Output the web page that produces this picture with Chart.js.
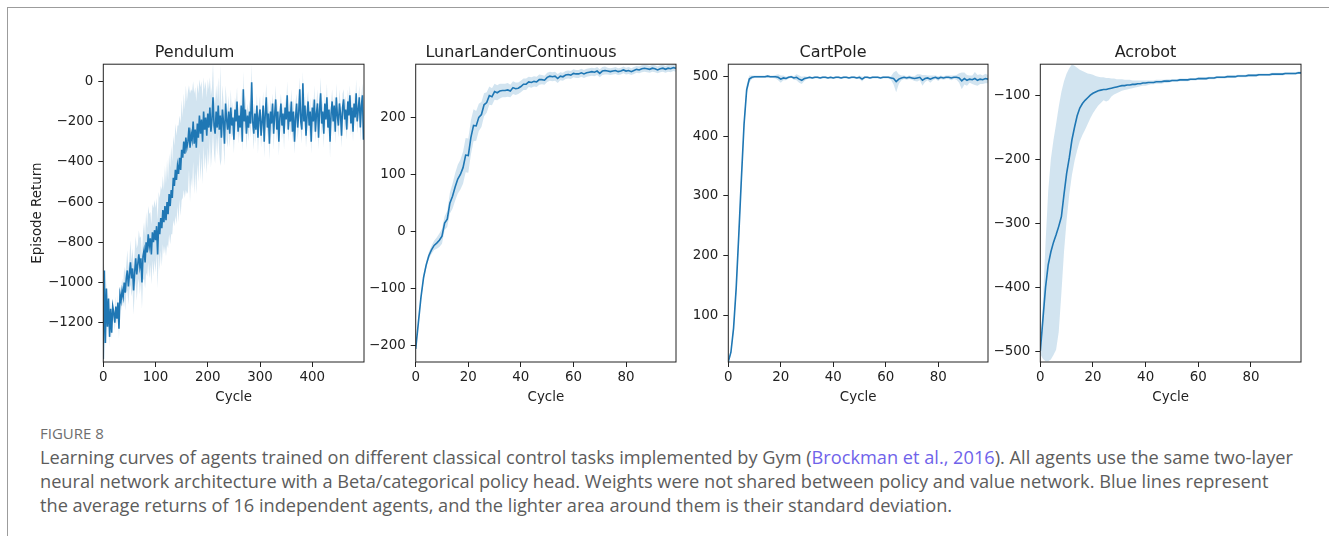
<!DOCTYPE html>
<html>
<head>
<meta charset="utf-8">
<script src="https://cdn.jsdelivr.net/npm/chart.js@4.4.1/dist/chart.umd.min.js"></script>
<style>
  body { margin: 0; background: #fff; width: 1329px; height: 536px; overflow: hidden; position: relative; }
  .frame { position: absolute; left: 7px; top: 7px; width: 1400px; height: 600px; border: 1.5px solid #9c9c9c; }
  canvas { position: absolute; top: 25px; }
  .fig { position: absolute; left: 40px; top: 423px; font: 15px "Open Sans", sans-serif; line-height: 20px; color: #6e6e6e; }
  .cap { position: absolute; left: 40px; top: 445px; font: 18.2px "Open Sans", sans-serif; line-height: 24px; color: #5c5c5c; white-space: nowrap; }
  .ref { color: #6f63ea; }
</style>
</head>
<body>
<div class="frame"></div>
<canvas id="c0" width="351" height="382" style="left:25px"></canvas>
<canvas id="c1" width="322" height="382" style="left:366px"></canvas>
<canvas id="c2" width="322" height="382" style="left:678px"></canvas>
<canvas id="c3" width="323" height="382" style="left:990px"></canvas>
<div class="fig">FIGURE 8</div>
<div class="cap">Learning curves of agents trained on different classical control tasks implemented by Gym (<span class="ref">Brockman et al., 2016</span>). All agents use the same two-layer<br>neural network architecture with a Beta/categorical policy head. Weights were not shared between policy and value network. Blue lines represent<br>the average returns of 16 independent agents, and the lighter area around them is their standard deviation.</div>
<script>
// Pendulum: one value every 2 cycles
const pendulumMean = [
  -1380, -940, -1300, -1030, -1220, -1080, -1270, -1130, -1250, -1120,
  -1150, -1200, -1120, -1180, -1100, -1230, -1060, -1090, -1040, -1070,
  -1000, -1050, -980, -940, -1020, -960, -900, -980, -930, -1040,
  -950, -880, -960, -910, -860, -920, -880, -1000, -870, -840,
  -900, -800, -850, -760, -820, -780, -860, -750, -800, -740,
  -790, -720, -860, -700, -760, -680, -730, -640, -700, -620,
  -690, -600, -660, -560, -620, -540, -580, -480, -520, -440,
  -490, -420, -460, -380, -440, -340, -380, -300, -360, -280,
  -330, -300, -230, -330, -260, -290, -200, -310, -240, -330,
  -210, -280, -170, -260, -190, -300, -150, -240, -180, -270,
  -160, -230, -130, -250, -190, -80, -220, -260, -150, -230,
  -120, -240, -170, -280, -140, -200, -310, -110, -190, -240,
  -150, -260, -130, -220, -180, -290, -140, -200, -100, -250,
  -170, -230, -120, -300, -40, -200, -140, -260, -170, -230,
  -150, -210, -5, -200, -260, -160, -240, -120, -280, -180,
  -140, -270, -200, -120, -300, -160, -80, -230, -160, -310,
  -150, -210, -110, -260, -170, -90, -240, -150, -300, -180,
  -110, -220, -160, -260, -130, -190, -70, -240, -150, -200,
  -100, -250, -150, -300, -180, -110, -230, -160, -40, -200,
  -240, -10, -200, -120, -270, -170, -100, -220, -150, -300,
  -130, -200, -90, -250, -160, -110, -280, -140, -60, -210,
  -150, -260, -110, -190, -80, -230, -140, -300, -160, -100,
  -200, -120, -250, -80, -170, -220, -110, -160, -270, -130,
  -90, -190, -140, -240, -100, -170, -70, -210, -130, -250,
  -110, -180, -60, -200, -140, -80, -230, -120, -70, -290
];
const pendulumStd = [
  10, 40, 30, 50, 40, 30, 50, 40, 30, 40,
  30, 40, 50, 30, 40, 50, 40, 50, 60, 50,
  80, 90, 70, 100, 90, 80, 110, 90, 100, 120,
  100, 110, 130, 100, 120, 140, 110, 130, 120, 140,
  130, 150, 120, 140, 160, 130, 150, 140, 170, 150,
  160, 140, 170, 150, 180, 160, 190, 170, 160, 200,
  180, 210, 170, 200, 190, 220, 180, 210, 200, 230,
  220, 200, 240, 210, 230, 250, 200, 240, 220, 260,
  230, 250, 210, 270, 220, 240, 200, 250, 210, 230,
  200, 220, 180, 230, 190, 210, 170, 200, 180, 190,
  170, 190, 150, 180, 160, 170, 140, 150, 130, 140,
  140, 120, 250, 110, 120, 100, 110, 90, 100, 90,
  80, 70, 90, 60, 80, 70, 60, 90, 70, 60,
  70, 60, 80, 50, 90, 60, 70, 80, 60, 70,
  60, 70, 90, 60, 80, 50, 70, 60, 80, 60,
  70, 60, 50, 70, 80, 60, 70, 50, 60, 80,
  60, 70, 50, 80, 60, 70, 60, 50, 70, 60,
  50, 70, 60, 80, 50, 60, 70, 60, 50, 70,
  60, 50, 70, 60, 80, 50, 60, 70, 60, 50,
  70, 60, 50, 70, 60, 80, 50, 60, 70, 60,
  50, 60, 70, 50, 60, 70, 60, 50, 80, 60,
  60, 70, 50, 60, 70, 50, 60, 80, 50, 60,
  70, 50, 60, 70, 50, 60, 70, 50, 60, 70,
  50, 60, 70, 50, 60, 70, 50, 60, 70, 50,
  60, 50, 70, 60, 50, 60, 70, 50, 60, 60
];

const lunarMean = [
  -205, -160, -115, -80, -58, -42, -32, -24, -20, -15,
  -8, 15, 22, 50, 62, 78, 92, 100, 112, 134,
  133, 165, 186, 185, 200, 205, 222, 226, 238, 236,
  245, 243, 246, 247, 247, 248, 246, 252, 250, 251,
  254, 258, 258, 262, 261, 263, 262, 266, 266, 265,
  270, 272, 271, 272, 268, 272, 271, 274, 275, 274,
  277, 276, 276, 278, 276, 278, 279, 280, 279, 281,
  277, 281, 282, 281, 280, 281, 282, 280, 281, 283,
  281, 282, 280, 282, 284, 283, 285, 286, 285, 284,
  286, 285, 283, 285, 286, 284, 286, 285, 287, 286
];
const lunarStd = [
  2, 4, 5, 6, 6, 6, 7, 8, 10, 12,
  13, 12, 14, 18, 22, 24, 25, 26, 28, 30,
  30, 30, 28, 26, 24, 22, 20, 18, 16, 15,
  14, 13, 13, 12, 12, 12, 11, 11, 11, 10,
  10, 10, 10, 9, 9, 9, 9, 9, 8, 8,
  8, 8, 8, 8, 8, 7, 7, 7, 7, 7,
  7, 7, 7, 7, 7, 7, 7, 7, 7, 7,
  7, 7, 7, 6, 6, 6, 6, 6, 6, 6,
  6, 6, 6, 6, 6, 6, 6, 6, 6, 6,
  6, 6, 6, 6, 6, 6, 6, 6, 6, 6
];

const cartMean = [
  22, 38, 78, 145, 235, 330, 420, 478, 496, 499,
  500, 500, 500, 500, 500, 501, 500, 500, 500, 499,
  496, 498, 497, 499, 500, 498, 499, 496, 494, 497,
  498, 499, 498, 499, 499, 498, 499, 499, 498, 499,
  498, 499, 499, 498, 499, 499, 498, 499, 499, 498,
  499, 496, 499, 499, 498, 499, 499, 499, 498, 499,
  499, 499, 498, 497, 492, 496, 498, 499, 498, 499,
  498, 497, 498, 499, 494, 497, 498, 496, 498, 499,
  497, 499, 498, 499, 499, 498, 499, 499, 498, 493,
  497, 494, 496, 495, 497, 494, 496, 495, 497, 496
];
const cartStd = [
  1, 3, 6, 10, 12, 12, 10, 8, 6, 3,
  2, 2, 2, 2, 2, 2, 2, 2, 3, 5,
  6, 4, 3, 2, 2, 3, 5, 6, 6, 4,
  2, 2, 2, 2, 2, 2, 2, 2, 2, 2,
  2, 2, 2, 2, 2, 2, 2, 2, 2, 2,
  3, 4, 2, 2, 2, 2, 2, 2, 2, 2,
  2, 2, 3, 10, 18, 8, 4, 3, 3, 3,
  3, 4, 6, 5, 9, 6, 4, 6, 4, 3,
  4, 3, 3, 3, 3, 4, 3, 4, 8, 14,
  10, 9, 6, 7, 11, 9, 8, 7, 8, 7
];

const acroMean = [
  -500, -450, -400, -365, -345, -330, -318, -305, -290, -255,
  -222, -198, -170, -150, -132, -120, -113, -108, -104, -100,
  -97, -95, -93, -92, -91, -91, -90, -89, -88, -87,
  -86, -85, -85, -84, -84, -83, -83, -82, -82, -81,
  -81, -80, -80, -80, -79, -79, -79, -78, -78, -78,
  -77, -77, -77, -76, -76, -76, -76, -75, -75, -75,
  -74, -74, -74, -74, -73, -73, -73, -72, -72, -72,
  -72, -71, -71, -71, -71, -70, -70, -70, -70, -69,
  -69, -69, -69, -68, -68, -68, -68, -68, -67, -67,
  -67, -67, -67, -66, -66, -66, -66, -66, -65, -65
];
const acroHigh = [
  -495, -420, -330, -250, -200, -170, -145, -118, -95, -78,
  -66, -58, -52, -54, -57, -60, -62, -64, -66, -67,
  -68, -70, -71, -72, -72, -73, -73, -74, -74, -75,
  -75, -75, -76, -76, -76, -77, -77, -77, -77, -77,
  -77, -77, -77, -77, -76, -76, -76, -76, -75, -75,
  -75, -75, -75, -74, -74, -74, -74, -73, -73, -73,
  -72, -72, -72, -72, -71, -71, -71, -70, -70, -70,
  -70, -69, -69, -69, -69, -68, -68, -68, -68, -67,
  -67, -67, -67, -66, -66, -66, -66, -66, -65, -65,
  -65, -65, -65, -64, -64, -64, -64, -64, -63, -63
];
const acroLow = [
  -505, -512, -516, -516, -513, -506, -498, -470, -410, -345,
  -295, -255, -225, -203, -186, -172, -162, -154, -145, -136,
  -128, -122, -116, -112, -108, -110, -108, -102, -99, -97,
  -95, -93, -92, -91, -90, -89, -88, -87, -86, -85,
  -85, -84, -83, -83, -82, -82, -82, -81, -81, -80,
  -79, -79, -79, -78, -78, -78, -78, -77, -77, -77,
  -76, -76, -76, -76, -75, -75, -75, -74, -74, -74,
  -74, -73, -73, -73, -73, -72, -72, -72, -72, -71,
  -71, -71, -71, -70, -70, -70, -70, -70, -69, -69,
  -69, -69, -69, -68, -68, -68, -68, -68, -67, -67
];

const titles = ['Pendulum', 'LunarLanderContinuous', 'CartPole', 'Acrobot'];
const pendulumXTicks = [0, 100, 200, 300, 400];
const cycleXTicks = [0, 20, 40, 60, 80];
const pendulumYTicks = [0, -200, -400, -600, -800, -1000, -1200];
const lunarYTicks = [200, 100, 0, -100, -200];
const cartYTicks = [500, 400, 300, 200, 100];
const acroYTicks = [-100, -200, -300, -400, -500];

const BLUE = '#1f77b4';
const BAND = 'rgba(31,119,180,0.2)';
const INK = '#222';
const FONT = 'DejaVu Sans';

// box around the plot area (matplotlib spines)
const spines = {
  id: 'spines',
  afterDraw(chart) {
    const { ctx, chartArea: a } = chart;
    ctx.save();
    ctx.strokeStyle = INK;
    ctx.lineWidth = 1;
    ctx.strokeRect(a.left, a.top, a.right - a.left, a.bottom - a.top);
    ctx.restore();
  }
};

const fmt = v => (v < 0 ? '\u2212' + Math.abs(v) : String(v));
const pts = (xs, ys) => ys.map((y, i) => ({ x: xs[i], y: y }));

function makeChart(id, opts) {
  const { xs, mean, low, high, title, xMax, xTicks, yMin, yMax, yTicks, yWidth, yTitle } = opts;
  new Chart(document.getElementById(id), {
    type: 'line',
    data: {
      datasets: [
        { data: pts(xs, high), borderWidth: 0, pointRadius: 0, fill: '+1', backgroundColor: BAND },
        { data: pts(xs, low), borderWidth: 0, pointRadius: 0, fill: false },
        { data: pts(xs, mean), borderColor: BLUE, borderWidth: 1.6, pointRadius: 0, fill: false }
      ]
    },
    options: {
      responsive: false,
      animation: false,
      devicePixelRatio: 1,
      layout: { padding: { left: 0, right: 12, top: 0, bottom: 0 } },
      plugins: {
        legend: { display: false },
        tooltip: { enabled: false },
        filler: { drawTime: 'beforeDatasetsDraw' },
        title: {
          display: true, text: title, color: INK,
          font: { family: FONT, size: 16, weight: 'normal' },
          padding: { top: 18, bottom: 2 }
        }
      },
      scales: {
        x: {
          type: 'linear', min: 0, max: xMax,
          afterBuildTicks: s => { s.ticks = xTicks.map(v => ({ value: v })); },
          afterFit: s => { s.height = 45; },
          grid: { drawOnChartArea: false, drawTicks: true, tickLength: 5, tickColor: INK },
          border: { display: false },
          ticks: { color: INK, padding: 2, maxRotation: 0, font: { family: FONT, size: 13.4 }, callback: fmt },
          title: { display: true, text: 'Cycle', color: INK, font: { family: FONT, size: 13.4 }, padding: { top: 4, bottom: 1 } }
        },
        y: {
          type: 'linear', min: yMin, max: yMax,
          afterBuildTicks: s => { s.ticks = yTicks.map(v => ({ value: v })); },
          afterFit: s => { s.width = yWidth; },
          grid: { drawOnChartArea: false, drawTicks: true, tickLength: 5, tickColor: INK },
          border: { display: false },
          ticks: { color: INK, padding: 5, font: { family: FONT, size: 13.4 }, callback: fmt },
          title: { display: !!yTitle, text: yTitle || '', color: INK, font: { family: FONT, size: 13.4 }, padding: { top: 4, bottom: 4 } }
        }
      }
    },
    plugins: [spines]
  });
}

const pendulumCycles = pendulumMean.map((_, i) => i * 2);
const cycles = lunarMean.map((_, i) => i);

makeChart('c0', {
  xs: pendulumCycles, mean: pendulumMean,
  low: pendulumMean.map((m, i) => m - pendulumStd[i]),
  high: pendulumMean.map((m, i) => m + pendulumStd[i]),
  title: titles[0], xMax: 499, xTicks: pendulumXTicks,
  yMin: -1395, yMax: 85, yTicks: pendulumYTicks, yWidth: 78.3, yTitle: 'Episode Return'
});
makeChart('c1', {
  xs: cycles, mean: lunarMean,
  low: lunarMean.map((m, i) => m - lunarStd[i]),
  high: lunarMean.map((m, i) => m + lunarStd[i]),
  title: titles[1], xMax: 99, xTicks: cycleXTicks,
  yMin: -228, yMax: 293, yTicks: lunarYTicks, yWidth: 49.7
});
makeChart('c2', {
  xs: cycles, mean: cartMean,
  low: cartMean.map((m, i) => m - cartStd[i]),
  high: cartMean.map((m, i) => m + cartStd[i]),
  title: titles[2], xMax: 99, xTicks: cycleXTicks,
  yMin: 21.6, yMax: 521, yTicks: cartYTicks, yWidth: 50.3
});
makeChart('c3', {
  xs: cycles, mean: acroMean, low: acroLow, high: acroHigh,
  title: titles[3], xMax: 99, xTicks: cycleXTicks,
  yMin: -517, yMax: -51.5, yTicks: acroYTicks, yWidth: 50.3
});
</script>
</body>
</html>
